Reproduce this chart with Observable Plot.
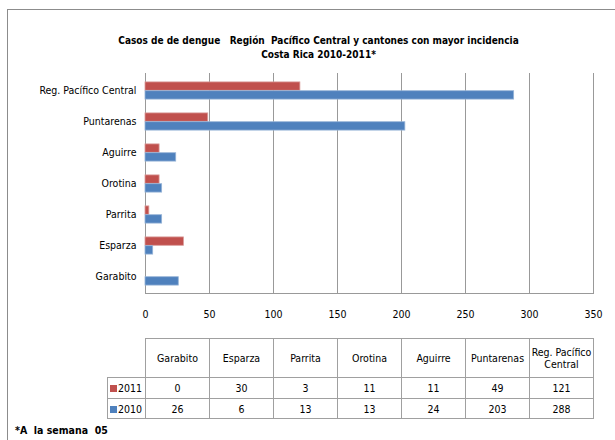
<!DOCTYPE html>
<html>
<head>
<meta charset="utf-8">
<script src="https://cdn.jsdelivr.net/npm/d3@7"></script>
<script src="https://cdn.jsdelivr.net/npm/@observablehq/plot@0.6"></script>
<style>
  html, body { margin: 0; padding: 0; background: #fff; overflow: hidden; }
  #wrap { position: relative; width: 615px; height: 440px; overflow: hidden;
          font-family: "Liberation Sans Narrow", "DejaVu Sans Condensed", sans-serif; color: #000; }
  #frame { position: absolute; left: 7px; top: 9px; width: 700px; height: 600px; border: 1px solid #8c8c8c; }
  #title { position: absolute; left: 0; top: 34px; width: 637px; text-align: center;
           font-weight: bold; font-size: 10px; line-height: 14px; }
  #chart { position: absolute; left: 0; top: 0; }
  table { position: absolute; border-collapse: collapse; font-size: 10.5px; table-layout: fixed; }
  td { border: 1px solid #a0a0a0; text-align: center; padding: 0; }
  td.blank { border: none; }
  td.leg { text-align: left; padding-left: 2px; }
  .sw { display: inline-block; width: 7px; height: 7px; margin-right: 1px; vertical-align: 0px; }
  #note { position: absolute; left: 15px; top: 424px; font-weight: bold; font-size: 10.5px; }
</style>
</head>
<body>
<div id="wrap">
  <div id="frame"></div>
  <div id="title">Casos de de dengue&nbsp;&nbsp; Región&nbsp; Pacífico Central y cantones con mayor incidencia<br>Costa Rica 2010-2011*</div>
  <div id="chart"></div>
  <div id="note">*A&nbsp; la semana&nbsp; 05</div>
</div>
<script>
const categories = ["Garabito", "Esparza", "Parrita", "Orotina", "Aguirre", "Puntarenas", "Reg. Pacífico Central"];
const values2011 = [0, 30, 3, 11, 11, 49, 121];
const values2010 = [26, 6, 13, 13, 24, 203, 288];
const years = ["2011", "2010"];
const colors = ["#C0504D", "#4F81BD"];
const strokes = ["#D99A98", "#95B3D7"];
const xTicks = [0, 50, 100, 150, 200, 250, 300, 350];

const rows2011 = categories.map((c, i) => ({category: c, value: values2011[i]}));
const rows2010 = categories.map((c, i) => ({category: c, value: values2010[i]}));

const font = '"Liberation Sans Narrow", "DejaVu Sans Condensed", sans-serif';
const band = (293 - 73) / 7;
const half = band / 2;
const barH = 8.8;

const chart = Plot.plot({
  width: 615,
  height: 330,
  marginTop: 73,
  marginBottom: 37,
  marginLeft: 145,
  marginRight: 22,
  style: {fontFamily: font, fontSize: "10.5px", color: "#000", background: "transparent"},
  x: {domain: [0, 350], ticks: xTicks, label: null},
  y: {domain: categories.slice().reverse(), padding: 0, label: null},
  marks: [
    Plot.gridX(xTicks, {stroke: "#999", strokeOpacity: 1}),
    Plot.frame({anchor: "bottom", stroke: "#999"}),
    Plot.barX(rows2011, {x: "value", y: "category", fill: colors[0], stroke: strokes[0], strokeWidth: 0.8,
      insetTop: half - barH, insetBottom: half}),
    Plot.barX(rows2010, {x: "value", y: "category", fill: colors[1], stroke: strokes[1], strokeWidth: 0.8,
      insetTop: half, insetBottom: half - barH}),
    Plot.axisX({ticks: xTicks, tickSize: 0, tickPadding: 17, label: null}),
    Plot.axisY({tickSize: 0, tickPadding: 9, label: null})
  ]
});
document.getElementById("chart").appendChild(chart);

// Data table aligned with the x scale
const xs = chart.scale("x");
const x0 = xs.apply(0), x1 = xs.apply(350);
const colW = (x1 - x0) / categories.length;
const legW = 38;
const table = document.createElement("table");
table.style.left = (x0 - legW) + "px";
table.style.top = "338px";
table.style.width = (legW + colW * categories.length) + "px";
const cg = document.createElement("colgroup");
[legW, ...categories.map(() => colW)].forEach(w => {
  const c = document.createElement("col"); c.style.width = w + "px"; cg.appendChild(c);
});
table.appendChild(cg);
const hr = table.insertRow();
hr.style.height = "39px";
const blank = hr.insertCell(); blank.className = "blank";
categories.forEach(c => { const td = hr.insertCell(); td.textContent = c; });
[values2011, values2010].forEach((vals, k) => {
  const tr = table.insertRow();
  tr.style.height = k === 0 ? "21px" : "20px";
  const lc = tr.insertCell(); lc.className = "leg";
  const sw = document.createElement("span"); sw.className = "sw"; sw.style.background = colors[k];
  lc.appendChild(sw); lc.appendChild(document.createTextNode(years[k]));
  vals.forEach(v => { const td = tr.insertCell(); td.textContent = v; });
});
document.getElementById("wrap").appendChild(table);
</script>
</body>
</html>
